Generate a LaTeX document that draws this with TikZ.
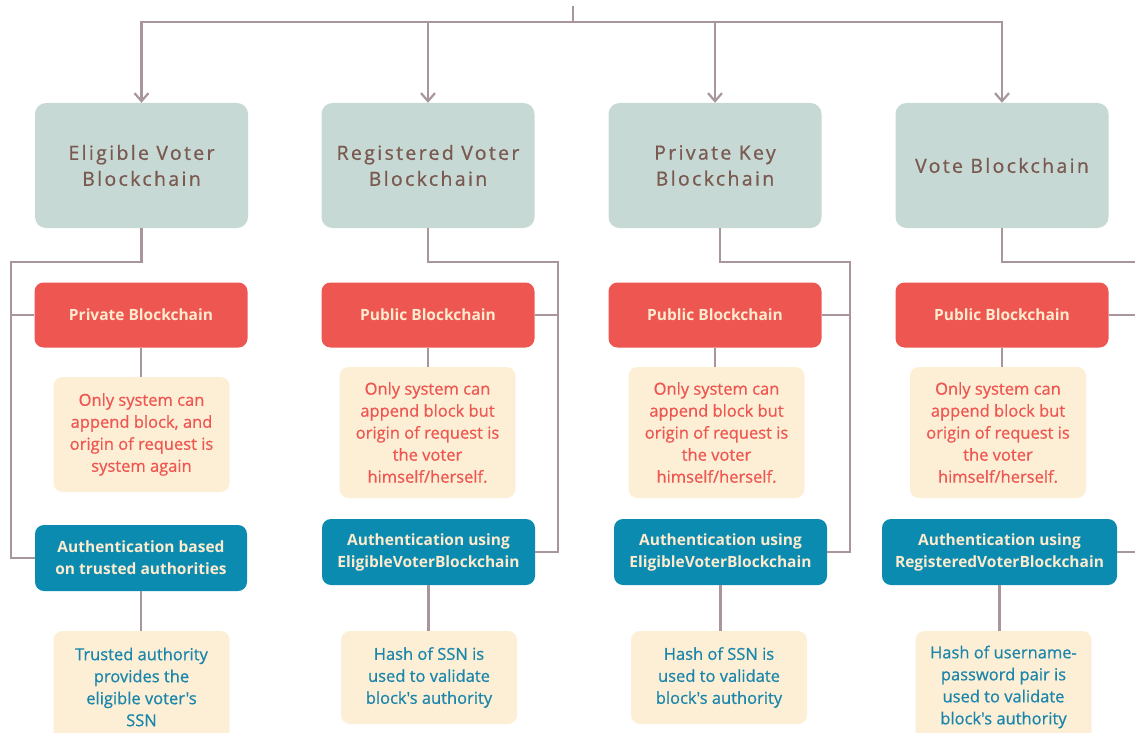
\documentclass[tikz,border=0pt]{standalone}
\usepackage{fontspec}
\setmainfont{Open Sans}
\newfontfamily\headfont[LetterSpace=12,FakeBold=0.8]{Open Sans}
\newfontfamily\notefont[FakeBold=0.7]{Open Sans}
\usetikzlibrary{arrows.meta}
\definecolor{sage}{HTML}{C6D9D4}
\definecolor{headtxt}{HTML}{7A5A50}
\definecolor{redbox}{HTML}{EE5651}
\definecolor{tealbox}{HTML}{0A8BAF}
\definecolor{creambox}{HTML}{FDEFD5}
\definecolor{creamtxt}{HTML}{FDEBCF}
\definecolor{tealtxt}{HTML}{1B86AC}
\definecolor{wire}{HTML}{A8969A}
\tikzset{
  chain/.style={draw=wire, line width=2.4pt},
  arr/.style={chain, -{Straight Barb[length=8pt,width=14pt,line width=2.2pt]}},
  headbox/.style={fill=sage, rounded corners=11pt, minimum width=213pt, minimum height=125pt,
    align=center, text=headtxt, font=\headfont\fontsize{19.5}{26}\selectfont, inner sep=0pt},
  typebox/.style={fill=redbox, rounded corners=9pt, minimum width=213pt, minimum height=65pt,
    align=center, text=creamtxt, font=\bfseries\fontsize{15.5}{22}\selectfont, inner sep=0pt},
  authbox/.style={fill=tealbox, rounded corners=9pt, minimum height=66pt,
    align=center, text=creamtxt, font=\bfseries\fontsize{15.5}{22}\selectfont, inner sep=0pt},
  notebox/.style={fill=creambox, rounded corners=9pt, minimum width=176pt,
    align=center, font=\notefont\fontsize{16.5}{22}\selectfont, inner sep=0pt},
  rednote/.style={notebox, text=redbox},
  tealnote/.style={notebox, text=tealtxt}
}
\begin{document}
\begin{tikzpicture}[x=1pt, y=-1pt]
\useasboundingbox (0,0) rectangle (1135,733);
\clip (0,0) rectangle (1135,733);

% blockchain headers
\node[headbox] (t1) at (141.5,165.5) {Eligible Voter\\Blockchain};
\node[headbox] (t2) at (428,165.5) {Registered Voter\\Blockchain};
\node[headbox] (t3) at (715,165.5) {Private Key\\Blockchain};
\node[headbox] (t4) at (1002,165.5) {Vote Blockchain};

% blockchain type
\node[typebox] (r1) at (141,315) {Private Blockchain};
\node[typebox] (r2) at (428,315) {Public Blockchain};
\node[typebox] (r3) at (715,315) {Public Blockchain};
\node[typebox] (r4) at (1002,315) {Public Blockchain};

% append rules
\node[rednote, minimum height=115pt] (n1) at (141.5,434.5)
  {Only system can\\append block, and\\origin of request is\\system again};
\node[rednote, minimum height=131pt] (n2) at (427.5,432.5)
  {Only system can\\append block but\\origin of request is\\the voter\\himself/herself.};
\node[rednote, minimum height=131pt] (n3) at (716.5,432.5)
  {Only system can\\append block but\\origin of request is\\the voter\\himself/herself.};
\node[rednote, minimum height=131pt] (n4) at (998,432.5)
  {Only system can\\append block but\\origin of request is\\the voter\\himself/herself.};

% authentication
\node[authbox, minimum width=212pt] (a1) at (141,558) {Authentication based\\on trusted authorities};
\node[authbox, minimum width=213pt] (a2) at (428.5,552) {Authentication using\\EligibleVoterBlockchain};
\node[authbox, minimum width=213pt] (a3) at (720.5,552) {Authentication using\\EligibleVoterBlockchain};
\node[authbox, minimum width=235pt] (a4) at (999.5,552) {Authentication using\\RegisteredVoterBlockchain};

% authentication details
\node[tealnote, minimum height=112pt] (b1) at (141.5,687)
  {Trusted authority\\provides the\\eligible voter's\\SSN};
\node[tealnote, minimum height=93pt] (b2) at (429,677.5)
  {Hash of SSN is\\used to validate\\block's authority};
\node[tealnote, minimum height=93pt] (b3) at (719,677.5)
  {Hash of SSN is\\used to validate\\block's authority};
\node[tealnote, minimum height=112pt] (b4) at (1003.5,687)
  {Hash of username-\\password pair is\\used to validate\\block's authority};

% distribution bar
\coordinate (src) at (573,6);
\coordinate (bar) at (573,22);
\draw[chain] (src) -- (bar);
\draw[arr] (bar) -| (t1.north);
\draw[arr] (bar) -| (t2.north);
\draw[arr] (bar) -| (t3.north);
\draw[arr] (bar) -| (t4.north);

% column rails
\coordinate (l1) at (11,262);
\coordinate (l2) at (558,262);
\coordinate (l3) at (850,262);
\coordinate (l4) at (1145,262);
\coordinate (t3s) at (720,228);

\draw[chain] (t1.south) |- (l1) |- (a1.west);
\draw[chain] (r1.west) -- (r1.west -| l1);
\draw[chain] (t2.south) |- (l2) |- (a2.east);
\draw[chain] (r2.east) -- (r2.east -| l2);
\draw[chain] (t3s) |- (l3) |- (a3.east);
\draw[chain] (r3.east) -- (r3.east -| l3);
\draw[chain] (t4.south) |- (l4);
\draw[chain] (r4.east) -- (r4.east -| l4);
\draw[chain] (a4.east) -- (a4.east -| l4);

% inner links
\draw[chain] (r1.south) -- (r1.south |- n1.north);
\draw[chain] (r2.south) -- (r2.south |- n2.north);
\draw[chain] (r3.south) -- (r3.south |- n3.north);
\draw[chain] (r4.south) -- (r4.south |- n4.north);
\draw[chain] (a1.south) -- (a1.south |- b1.north);
\draw[chain] (a2.south) -- (a2.south |- b2.north);
\draw[chain] (a3.south) -- (a3.south |- b3.north);
\draw[chain] (a4.south) -- (a4.south |- b4.north);
\end{tikzpicture}
\end{document}
